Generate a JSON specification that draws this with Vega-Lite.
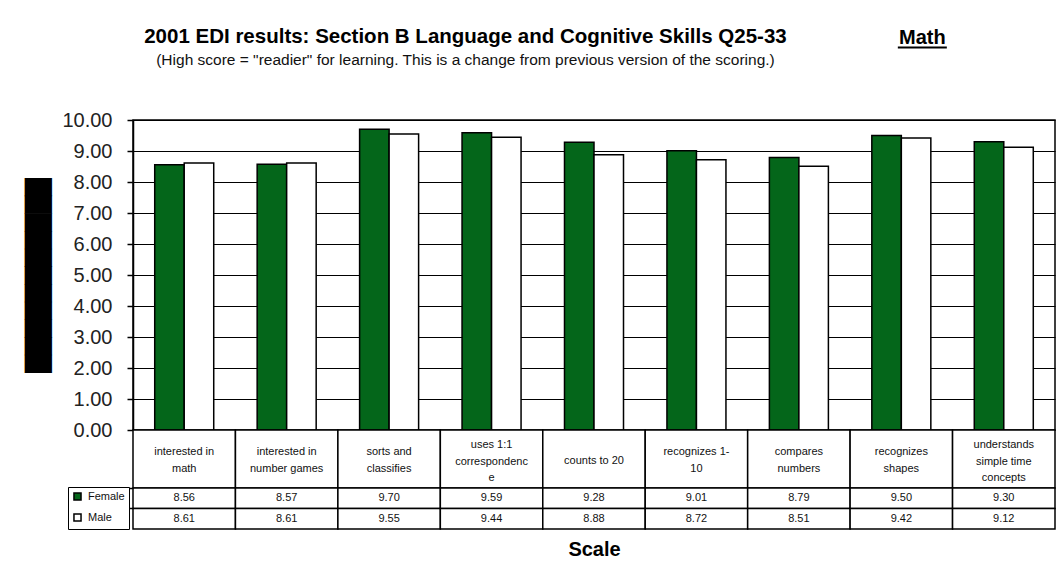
{
  "$schema": "https://vega.github.io/schema/vega-lite/v6.json",
  "padding": {"left": 27, "top": 27, "right": 0, "bottom": 0},
  "background": "white",
  "spacing": 0,
  "bounds": "flush",
  "config": {
    "font": "Liberation Sans",
    "view": {"stroke": null},
    "legend": {
      "orient": "none",
      "legendX": -65,
      "legendY": 459
    }
  },
  "title": {
    "text": "2001 EDI results:  Section B Language and Cognitive Skills Q25-33",
    "subtitle": "(High  score = \"readier\" for learning.  This is a change from previous version of the scoring.)",
    "anchor": "middle",
    "frame": "bounds",
    "dx": -76,
    "offset": -40,
    "fontSize": 20.5,
    "fontWeight": "bold",
    "color": "black",
    "subtitleFontSize": 15.5,
    "subtitleColor": "#111",
    "subtitlePadding": 5
  },
  "datasets": {
    "scores": [
      {"category": "interested in math", "series": "Female", "value": 8.56},
      {"category": "interested in math", "series": "Male", "value": 8.61},
      {"category": "interested in number games", "series": "Female", "value": 8.57},
      {"category": "interested in number games", "series": "Male", "value": 8.61},
      {"category": "sorts and classifies", "series": "Female", "value": 9.70},
      {"category": "sorts and classifies", "series": "Male", "value": 9.55},
      {"category": "uses 1:1 correspondence", "series": "Female", "value": 9.59},
      {"category": "uses 1:1 correspondence", "series": "Male", "value": 9.44},
      {"category": "counts to 20", "series": "Female", "value": 9.28},
      {"category": "counts to 20", "series": "Male", "value": 8.88},
      {"category": "recognizes 1-10", "series": "Female", "value": 9.01},
      {"category": "recognizes 1-10", "series": "Male", "value": 8.72},
      {"category": "compares numbers", "series": "Female", "value": 8.79},
      {"category": "compares numbers", "series": "Male", "value": 8.51},
      {"category": "recognizes shapes", "series": "Female", "value": 9.50},
      {"category": "recognizes shapes", "series": "Male", "value": 9.42},
      {"category": "understands simple time concepts", "series": "Female", "value": 9.30},
      {"category": "understands simple time concepts", "series": "Male", "value": 9.12}
    ],
    "cats": [
      {"category": "interested in math", "label": "interested in\nmath"},
      {"category": "interested in number games", "label": "interested in\nnumber games"},
      {"category": "sorts and classifies", "label": "sorts and\nclassifies"},
      {"category": "uses 1:1 correspondence", "label": "uses 1:1\ncorrespondenc\ne"},
      {"category": "counts to 20", "label": "counts to 20"},
      {"category": "recognizes 1-10", "label": "recognizes 1-\n10"},
      {"category": "compares numbers", "label": "compares\nnumbers"},
      {"category": "recognizes shapes", "label": "recognizes\nshapes"},
      {"category": "understands simple time concepts", "label": "understands\nsimple time\nconcepts"}
    ],
    "note": [
      {"text": "Math"}
    ]
  },
  "vconcat": [
    {
      "width": 922,
      "height": 92,
      "data": {"name": "note"},
      "encoding": {
        "x": {"datum": "recognizes shapes", "type": "nominal",
              "scale": {"domain": ["interested in math", "interested in number games", "sorts and classifies",
                                   "uses 1:1 correspondence", "counts to 20", "recognizes 1-10",
                                   "compares numbers", "recognizes shapes", "understands simple time concepts"],
                        "paddingInner": 0, "paddingOuter": 0},
              "axis": null}
      },
      "layer": [
        {
          "mark": {"type": "text", "fontWeight": "bold", "fontSize": 20, "color": "black", "dx": 21},
          "encoding": {
            "y": {"datum": 12.645, "type": "quantitative", "scale": {"domain": [10, 12.968], "nice": false, "zero": false}, "axis": null},
            "text": {"field": "text"}
          }
        },
        {
          "mark": {"type": "tick", "orient": "horizontal", "size": 49, "thickness": 2,
                   "color": "black", "opacity": 1, "xOffset": 21},
          "encoding": {
            "y": {"datum": 12.339, "type": "quantitative", "scale": {"domain": [10, 12.968], "nice": false, "zero": false}, "axis": null}
          }
        }
      ]
    },
    {
      "width": 922,
      "height": 310,
      "data": {"name": "scores"},
      "view": {"stroke": "black", "strokeWidth": 1.5},
      "mark": {"type": "bar", "stroke": "black", "strokeWidth": 1.5},
      "encoding": {
        "x": {"field": "category", "type": "nominal", "sort": null,
              "scale": {"paddingInner": 0, "paddingOuter": 0}, "axis": null},
        "xOffset": {"field": "series", "type": "nominal",
                    "scale": {"paddingOuter": 0.736, "paddingInner": 0}},
        "y": {"field": "value", "type": "quantitative",
              "scale": {"domain": [0, 10], "nice": false},
              "axis": {
                "title": "███████████",
                "titleFont": "DejaVu Sans",
                "titleFontSize": 23,
                "titleFontWeight": "normal",
                "titleColor": "black",
                "titlePadding": 11,
                "format": ".2f",
                "values": [0, 1, 2, 3, 4, 5, 6, 7, 8, 9, 10],
                "labelOverlap": false,
                "labelFont": "Liberation Sans",
                "labelFontSize": 20,
                "labelColor": "#222",
                "labelPadding": 15,
                "tickColor": "black",
                "tickSize": 6,
                "tickWidth": 1.5,
                "domainColor": "black",
                "domainWidth": 1.5,
                "grid": true,
                "gridColor": "black",
                "gridOpacity": 1,
                "gridWidth": 1
              }},
        "fill": {"field": "series", "type": "nominal",
                 "scale": {"domain": ["Female", "Male"], "range": ["#04661a", "#ffffff"]},
                 "legend": {
                   "title": null,
                   "symbolType": "square",
                   "symbolSize": 50,
                   "symbolStrokeColor": "black",
                   "symbolStrokeWidth": 1.5,
                   "labelFont": "Liberation Sans",
                   "labelFontSize": 11,
                   "labelColor": "#111",
                   "labelOffset": 5,
                   "rowPadding": 6,
                   "padding": 4,
                   "strokeColor": "black",
                   "fillColor": "white",
                   "labelExpr": "datum.label + '\u00a0\u00a0\u00a0\u00a0'"
                 }}
      }
    },
    {
      "width": 922,
      "height": 58,
      "data": {"name": "cats"},
      "encoding": {
        "x": {"field": "category", "type": "nominal", "sort": null,
              "scale": {"paddingInner": 0, "paddingOuter": 0}, "axis": null}
      },
      "layer": [
        {"mark": {"type": "rect", "fill": "white", "stroke": "black", "strokeWidth": 1.5}},
        {"transform": [{"filter": "length(split(datum.label, '\\n')) == 1"}],
         "mark": {"type": "text", "fontSize": 11, "lineBreak": "\n", "lineHeight": 16.5, "color": "#111", "dy": 2},
         "encoding": {"text": {"field": "label"}}},
        {"transform": [{"filter": "length(split(datum.label, '\\n')) == 2"}],
         "mark": {"type": "text", "fontSize": 11, "lineBreak": "\n", "lineHeight": 16.5, "color": "#111", "dy": -7},
         "encoding": {"text": {"field": "label"}}},
        {"transform": [{"filter": "length(split(datum.label, '\\n')) == 3"}],
         "mark": {"type": "text", "fontSize": 11, "lineBreak": "\n", "lineHeight": 16.5, "color": "#111", "dy": -14},
         "encoding": {"text": {"field": "label"}}}
      ]
    },
    {
      "width": 922,
      "height": 41,
      "data": {"name": "scores"},
      "encoding": {
        "x": {"field": "category", "type": "nominal", "sort": null,
              "scale": {"paddingInner": 0, "paddingOuter": 0},
              "axis": {"title": "Scale", "labels": false, "ticks": false, "domain": false,
                       "titleFontSize": 20, "titleFontWeight": "bold", "titleColor": "black",
                       "titlePadding": 10}},
        "y": {"field": "series", "type": "nominal",
              "scale": {"domain": ["Female", "Male"], "paddingInner": 0, "paddingOuter": 0},
              "axis": {"title": null, "labels": false, "domain": false, "bandPosition": 0,
                       "tickSize": 65, "tickColor": "black", "tickWidth": 1.5}}
      },
      "layer": [
        {"mark": {"type": "rect", "fill": "white", "stroke": "black", "strokeWidth": 1.5}},
        {"mark": {"type": "text", "fontSize": 11, "color": "#111"},
         "encoding": {"text": {"field": "value", "type": "quantitative", "format": ".2f"}}}
      ]
    }
  ]
}
